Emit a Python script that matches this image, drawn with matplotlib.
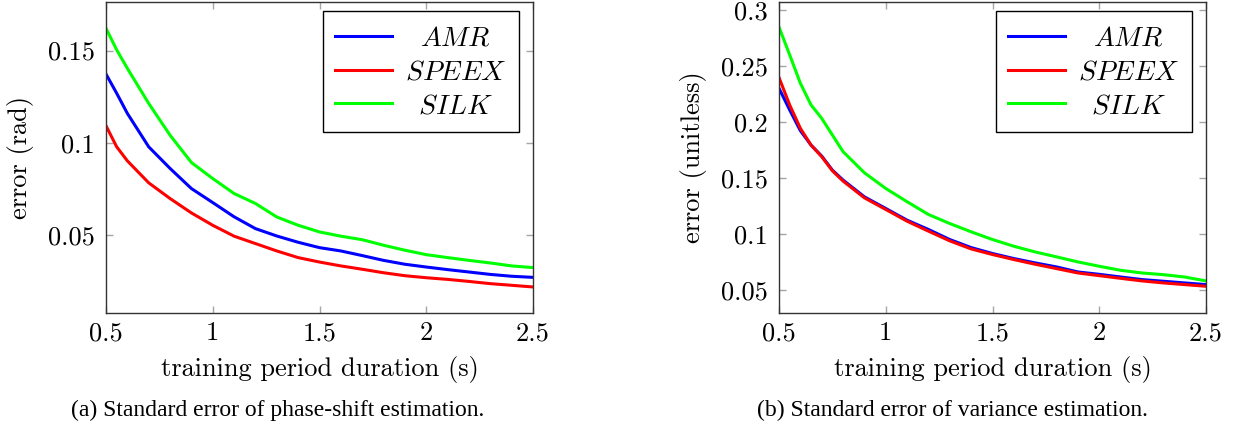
import numpy as np
import matplotlib
matplotlib.use("Agg")
import matplotlib.pyplot as plt

plt.rcParams['mathtext.fontset'] = 'cm'
plt.rcParams['axes.formatter.use_mathtext'] = True

# phase-shift estimation error (rad)
t_phase = [0.5, 0.55, 0.6, 0.7, 0.8, 0.9, 1.0, 1.1, 1.2, 1.3, 1.4, 1.5,
           1.6, 1.7, 1.8, 1.9, 2.0, 2.1, 2.2, 2.3, 2.4, 2.5]
amr_phase = [0.1373, 0.1269, 0.1160, 0.0979, 0.0862, 0.0753, 0.0677, 0.0600,
             0.0536, 0.0496, 0.0462, 0.0433, 0.0415, 0.0390, 0.0364, 0.0343,
             0.0328, 0.0314, 0.0301, 0.0288, 0.0278, 0.0272]
speex_phase = [0.1093, 0.0979, 0.0903, 0.0784, 0.0699, 0.0621, 0.0554, 0.0495,
               0.0455, 0.0415, 0.0379, 0.0355, 0.0334, 0.0316, 0.0297, 0.0281,
               0.0270, 0.0261, 0.0250, 0.0238, 0.0229, 0.0220]
silk_phase = [0.1621, 0.1504, 0.1404, 0.1214, 0.1042, 0.0894, 0.0807, 0.0726,
              0.0672, 0.0599, 0.0554, 0.0518, 0.0495, 0.0476, 0.0446, 0.0419,
              0.0395, 0.0379, 0.0364, 0.0350, 0.0334, 0.0325]

# variance estimation error (unitless)
t_var = [0.5, 0.55, 0.6, 0.65, 0.7, 0.75, 0.8, 0.9, 1.0, 1.1, 1.2, 1.3, 1.4,
         1.5, 1.6, 1.7, 1.8, 1.9, 2.0, 2.1, 2.2, 2.3, 2.4, 2.5]
amr_var = [0.2304, 0.2110, 0.1925, 0.1796, 0.1698, 0.1572, 0.1483, 0.1333,
           0.1229, 0.1124, 0.1041, 0.0951, 0.0879, 0.0826, 0.0781, 0.0742,
           0.0706, 0.0661, 0.0640, 0.0616, 0.0593, 0.0578, 0.0563, 0.0548]
speex_var = [0.2400, 0.2155, 0.1946, 0.1796, 0.1692, 0.1566, 0.1474, 0.1324,
             0.1220, 0.1115, 0.1026, 0.0939, 0.0867, 0.0817, 0.0772, 0.0730,
             0.0691, 0.0652, 0.0628, 0.0604, 0.0581, 0.0563, 0.0548, 0.0533]
silk_var = [0.2851, 0.2603, 0.2349, 0.2155, 0.2035, 0.1886, 0.1737, 0.1548,
            0.1408, 0.1289, 0.1175, 0.1094, 0.1020, 0.0951, 0.0891, 0.0840,
            0.0796, 0.0751, 0.0712, 0.0676, 0.0652, 0.0637, 0.0616, 0.0581]

codecs = ['$AMR$', '$SPEEX$', '$SILK$']
colors = ['#0000ff', '#ff0000', '#00ff00']

xticks = [0.5, 1, 1.5, 2, 2.5]
xticklabels = ['0.5', '1', '1.5', '2', '2.5']
yticks_phase = [0.05, 0.1, 0.15]
yticklabels_phase = ['0.05', '0.1', '0.15']
yticks_var = [0.05, 0.1, 0.15, 0.2, 0.25, 0.3]
yticklabels_var = ['0.05', '0.1', '0.15', '0.2', '0.25', '0.3']

fs = 19
cm_font = 'cmr10'

fig = plt.figure(figsize=(12.37, 4.29), dpi=100)
ax1 = fig.add_axes([106/1237, 116/429, 427/1237, 311.5/429])
ax2 = fig.add_axes([779/1237, 116/429, 427/1237, 311.5/429])


def style_axes(ax, series, t, ylim, yticks, yticklabels, ylabel):
    for y, c, name in zip(series, colors, codecs):
        ax.plot(t, y, color=c, lw=2.2, label=name)
    ax.set_xlim(0.5, 2.5)
    ax.set_ylim(*ylim)
    ax.set_xticks(xticks)
    ax.set_xticklabels(xticklabels, fontfamily=cm_font, fontsize=fs)
    ax.set_yticks(yticks)
    ax.set_yticklabels(yticklabels, fontfamily=cm_font, fontsize=fs)
    ax.tick_params(axis='x', direction='in', length=5, width=1, color='0.65',
                   top=True, pad=6)
    ax.tick_params(axis='y', direction='in', length=5, width=1, color='0.65',
                   right=True, pad=8)
    for sp in ax.spines.values():
        sp.set_color('0.2')
        sp.set_linewidth(1.0)
    ax.set_xlabel('training period duration (s)', fontfamily=cm_font,
                  fontsize=fs, labelpad=8)
    ax.set_ylabel(ylabel, fontfamily=cm_font, fontsize=fs, labelpad=10)
    leg = ax.legend(loc='upper right', bbox_to_anchor=(0.967, 0.968),
                    borderaxespad=0, fancybox=False, framealpha=1,
                    edgecolor='black', fontsize=20, handlelength=2.05,
                    handletextpad=0.45, labelspacing=0.2, borderpad=0.45)
    leg.get_frame().set_linewidth(1.0)
    return leg


leg1 = style_axes(ax1, [amr_phase, speex_phase, silk_phase], t_phase,
                  (0.0079, 0.1766), yticks_phase, yticklabels_phase,
                  'error (rad)')
leg2 = style_axes(ax2, [amr_var, speex_var, silk_var], t_var,
                  (0.0294, 0.308), yticks_var, yticklabels_var,
                  'error (unitless)')

# center the legend entries within their column
fig.canvas.draw()
r = fig.canvas.get_renderer()
for leg in (leg1, leg2):
    texts = leg.get_texts()
    widths = [tx.get_window_extent(r).width for tx in texts]
    wmax = max(widths)
    for tx, w in zip(texts, widths):
        tx.set_position(((wmax - w) / 2, 0))

fig.text(278/1237, 1 - 410/429, '(a) Standard error of phase-shift estimation.',
         ha='center', va='center', fontfamily='Liberation Serif', fontsize=17)
fig.text(952/1237, 1 - 410/429, '(b) Standard error of variance estimation.',
         ha='center', va='center', fontfamily='Liberation Serif', fontsize=17)

fig.savefig('out.png', dpi=100)
